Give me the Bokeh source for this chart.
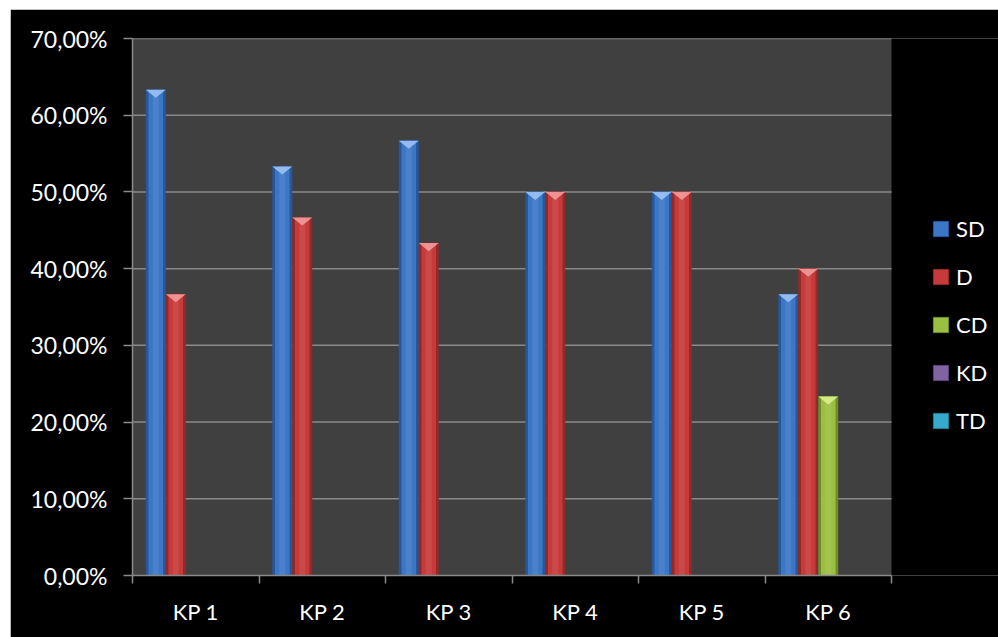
from bokeh.plotting import figure
from bokeh.models import Range1d, FixedTicker, Legend, LegendItem, ColumnDataSource
from bokeh.embed import file_html
from bokeh.resources import INLINE

# Share of answers per key point, by answer category
categories = ["KP 1", "KP 2", "KP 3", "KP 4", "KP 5", "KP 6"]
series_names = ["SD", "D", "CD", "KD", "TD"]
sd = [0.6333, 0.5333, 0.5667, 0.50, 0.50, 0.3667]
d = [0.3667, 0.4667, 0.4333, 0.50, 0.50, 0.40]
cd = [0.0, 0.0, 0.0, 0.0, 0.0, 0.2333]
kd = [0.0, 0.0, 0.0, 0.0, 0.0, 0.0]
td = [0.0, 0.0, 0.0, 0.0, 0.0, 0.0]
y_ticks = [0.0, 0.1, 0.2, 0.3, 0.4, 0.5, 0.6, 0.7]
y_tick_labels = ["0,00%", "10,00%", "20,00%", "30,00%", "40,00%", "50,00%", "60,00%", "70,00%"]

series_values = [sd, d, cd, kd, td]
# (edge, main, highlight) colours per series
palette = [
    ("#28579a", "#3b77c6", "#9cc2f4"),
    ("#922a2a", "#c63a3a", "#f39a9a"),
    ("#6f8c2c", "#9cbf42", "#dcf08e"),
    ("#5a4579", "#8064a2", "#c4b0e0"),
    ("#1f7d96", "#35aacb", "#a6ecf8"),
]

FONT = "Lato"
GRAY = "#8a8a8a"

n_cat = len(categories)
centers = [i + 0.5 for i in range(n_cat)]
boundaries = [float(i) for i in range(n_cat + 1)]
bar_w = 0.158
tri_depth = 0.0105

# the frame also spans the legend column on the right; the plot area
# itself covers only the categories (0 .. n_cat, i.e. 759 px)
plot_px = 759
frame_px = 988 - 122
x_max = n_cat * frame_px / plot_px

p = figure(
    width=988, height=628, margin=(9, 0, 0, 10),
    x_range=Range1d(0, x_max), y_range=Range1d(0, 0.7),
    output_backend="svg", toolbar_location=None,
    min_border_left=122, min_border_right=0,
    min_border_top=29, min_border_bottom=62,
    background_fill_color="black", border_fill_color="black",
    outline_line_color=None,
)

# gray plot area and its horizontal grid lines
p.quad(left=0, right=n_cat, bottom=0, top=0.7, fill_color="#404040",
       line_color=None)
p.segment(x0=0, x1=n_cat, y0=y_ticks[1:], y1=y_ticks[1:],
          line_color=GRAY, line_width=1.5)

# axes
p.xaxis.bounds = (0, n_cat)
p.xaxis.ticker = FixedTicker(ticks=centers, minor_ticks=boundaries)
p.xaxis.major_label_overrides = {c: lab for c, lab in zip(centers, categories)}
p.xaxis.major_tick_line_color = None
p.xaxis.minor_tick_in = 0
p.xaxis.minor_tick_out = 8
p.xaxis.minor_tick_line_color = GRAY
p.xaxis.minor_tick_line_width = 1.5
p.xaxis.major_label_standoff = 14
p.xaxis.major_label_text_font_size = "22px"

p.yaxis.ticker = FixedTicker(ticks=y_ticks, minor_ticks=[])
p.yaxis.major_label_overrides = {t: lab for t, lab in zip(y_ticks, y_tick_labels)}
p.yaxis.major_tick_in = 0
p.yaxis.major_tick_out = 9
p.yaxis.major_tick_line_color = GRAY
p.yaxis.major_tick_line_width = 1.5
p.yaxis.major_label_standoff = 16
p.yaxis.major_label_text_font_size = "23px"

for ax in (p.xaxis[0], p.yaxis[0]):
    ax.axis_line_color = GRAY
    ax.axis_line_width = 1.5
    ax.major_label_text_color = "white"
    ax.major_label_text_font = FONT

p.xgrid.visible = False
p.ygrid.visible = False

legend_items = []
for k, (name, vals) in enumerate(zip(series_names, series_values)):
    edge, main, hi = palette[k]
    xs = [c + (k - 2) * bar_w for c in centers]
    src = ColumnDataSource(dict(x=xs, top=vals))
    p.vbar(x="x", top="top", bottom=0, width=bar_w, source=src,
           fill_color=edge, line_color=None)
    r_main = p.vbar(x="x", top="top", bottom=0, width=bar_w * 0.78, source=src,
                    fill_color=main, line_color=edge, line_width=1)
    p.vbar(x="x", top="top", bottom=0, width=bar_w * 0.3, source=src,
           fill_color="white", fill_alpha=0.08, line_color=None)
    tx, ty = [], []
    for x, v in zip(xs, vals):
        if v > 0:
            tx.append([x - bar_w / 2, x + bar_w / 2, x])
            ty.append([v, v, v - tri_depth])
    if tx:
        p.patches(tx, ty, fill_color=hi, line_color=None, fill_alpha=0.9)
    legend_items.append(LegendItem(label=name, renderers=[r_main]))

legend = Legend(
    items=legend_items, location=(799, 141),
    glyph_width=19, glyph_height=19, label_height=19, spacing=21,
    label_standoff=6, padding=0, margin=0,
    label_text_color="white", label_text_font=FONT, label_text_font_size="22px",
    background_fill_alpha=0, border_line_alpha=0,
)
p.add_layout(legend, "center")

open("out.html", "w").write(file_html(p, INLINE))
